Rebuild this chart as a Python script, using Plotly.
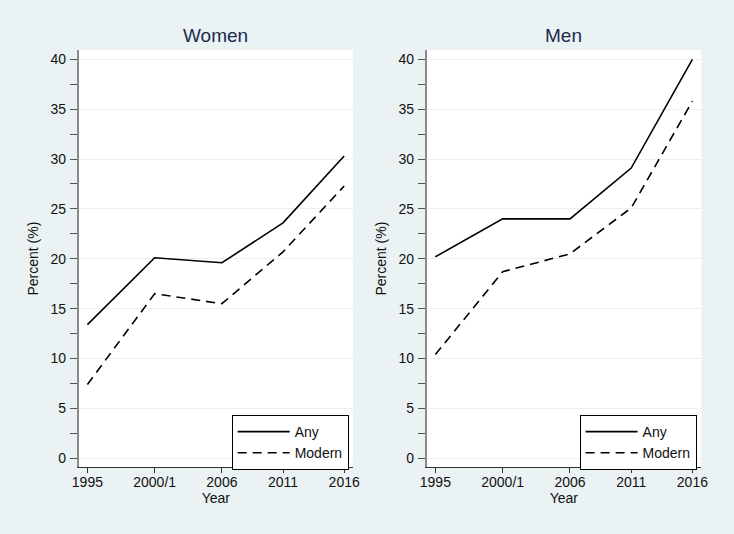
import plotly.graph_objects as go

years = [1995, 2000.5, 2006, 2011, 2016]
year_labels = ["1995", "2000/1", "2006", "2011", "2016"]
women_any = [13.4, 20.1, 19.6, 23.6, 30.3]
women_modern = [7.4, 16.5, 15.5, 20.7, 27.3]
men_any = [20.2, 24.0, 24.0, 29.1, 40.0]
men_modern = [10.4, 18.7, 20.5, 25.1, 35.8]
panels = ["Women", "Men"]

BG = "#EAF2F3"
FONT = "Liberation Sans, Arial, sans-serif"

fig = go.Figure()
dash = "9px,6px"
fig.add_trace(go.Scatter(x=years, y=women_any, mode="lines", name="Any",
                         line=dict(color="black", width=1.6), xaxis="x", yaxis="y", legend="legend"))
fig.add_trace(go.Scatter(x=years, y=women_modern, mode="lines", name="Modern",
                         line=dict(color="black", width=1.6, dash=dash), xaxis="x", yaxis="y", legend="legend"))
fig.add_trace(go.Scatter(x=years, y=men_any, mode="lines", name="Any",
                         line=dict(color="black", width=1.6), xaxis="x2", yaxis="y2", legend="legend2"))
fig.add_trace(go.Scatter(x=years, y=men_modern, mode="lines", name="Modern",
                         line=dict(color="black", width=1.6, dash=dash), xaxis="x2", yaxis="y2", legend="legend2"))

W, H = 734, 534
xdom1 = [73 / W, 352.7 / W]
xdom2 = [427.7 / W, 707.7 / W]
ydom = [1 - 467.3 / H, 1 - 50 / H]

def xaxis(dom, anchor):
    return dict(domain=dom, anchor=anchor, range=[1994.28, 2016.72], tickvals=years, ticktext=year_labels,
                showgrid=False, zeroline=False, showline=True, linecolor="#333333", linewidth=1,
                ticks="outside", ticklen=5, tickcolor="#333333", ticklabelstandoff=-3,
                tickfont=dict(size=14, color="#111111", family=FONT),
                title=dict(text="Year", font=dict(size=14, color="#111111", family=FONT), standoff=0))

def yaxis(anchor):
    return dict(domain=ydom, anchor=anchor, range=[-0.9, 40.93], tickvals=[0, 5, 10, 15, 20, 25, 30, 35, 40],
                showgrid=True, gridcolor="#EAF0F2", gridwidth=1, zeroline=False,
                showline=True, linecolor="#8a8a8a", linewidth=1.5,
                ticks="outside", ticklen=7, tickcolor="#555555", ticklabelstandoff=1,
                minor=dict(tickvals=[2.5, 7.5, 12.5, 17.5, 22.5, 27.5, 32.5, 37.5], ticks="outside",
                           ticklen=7, tickcolor="#555555", showgrid=False),
                tickfont=dict(size=14, color="#111111", family=FONT),
                title=dict(text="Percent (%)", font=dict(size=14, color="#111111", family=FONT), standoff=9))

def legend(xright):
    return dict(x=xright / W, xanchor="right", y=1 - 415 / H, yanchor="top",
                bgcolor="white", bordercolor="black", borderwidth=1,
                font=dict(size=14, color="#111111", family=FONT),
                tracegroupgap=2, itemwidth=52)

fig.update_layout(
    width=W, height=H, margin=dict(l=0, r=0, t=0, b=0),
    paper_bgcolor=BG, plot_bgcolor="white",
    font=dict(family=FONT),
    xaxis=xaxis(xdom1, "y"), yaxis=yaxis("x"),
    xaxis2=xaxis(xdom2, "y2"), yaxis2=yaxis("x2"),
    legend=legend(348.3), legend2=legend(703),
    annotations=[
        dict(text=panels[0], x=(xdom1[0] + xdom1[1]) / 2, y=1 - 36 / H, xref="paper", yref="paper",
             xanchor="center", yanchor="middle",
             showarrow=False, font=dict(size=19, color="#1c2a4d", family=FONT)),
        dict(text=panels[1], x=(xdom2[0] + xdom2[1]) / 2, y=1 - 36 / H, xref="paper", yref="paper",
             xanchor="center", yanchor="middle",
             showarrow=False, font=dict(size=19, color="#1c2a4d", family=FONT)),
    ],
)

fig.write_html("out.html", config={"displayModeBar": False},
               post_script="document.body.style.margin='0';document.body.style.overflow='hidden';")
